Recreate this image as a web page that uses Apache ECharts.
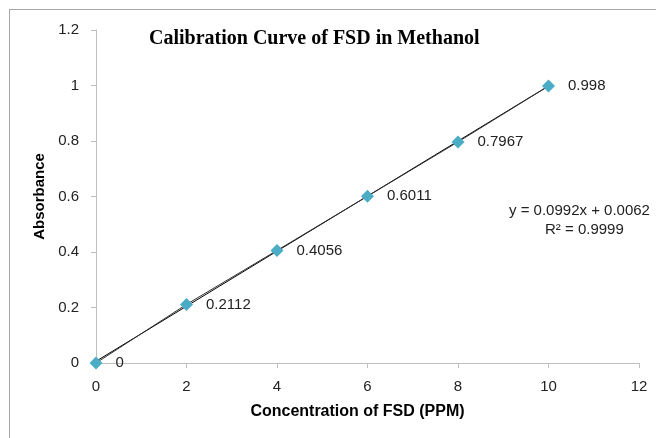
<!DOCTYPE html>
<html>
<head>
<meta charset="utf-8">
<script src="https://cdn.jsdelivr.net/npm/echarts@6/dist/echarts.min.js"></script>
<style>
  html, body { margin: 0; padding: 0; background: #fff; }
  #chart { width: 656px; height: 438px; }
</style>
</head>
<body>
<div id="chart"></div>
<script>
const concentration = [0, 2, 4, 6, 8, 10];
const absorbance = [0, 0.2112, 0.4056, 0.6011, 0.7967, 0.998];
// trendline shown in the chart: y = 0.0992x + 0.0062
const slope = 0.0992;
const intercept = 0.0062;
const trendX = [0, 10];

let chart = echarts.init(document.getElementById('chart'));

const points = concentration.map((x, i) => [x, absorbance[i]]);
const trend = trendX.map(x => [x, slope * x + intercept]);

const labelFont = 'Liberation Sans, Arial, sans-serif';

option = {
    backgroundColor: '#fff',
    animation: false,
    title: {
        text: 'Calibration Curve of FSD in Methanol',
        left: 144,
        top: 24,
        textStyle: {
            fontFamily: 'Liberation Serif, Times New Roman, serif',
            fontWeight: 'bold',
            fontSize: 20,
            color: '#000'
        }
    },
    grid: {
        left: 96,
        right: 17,
        top: 30,
        bottom: 75
    },
    xAxis: {
        type: 'value',
        min: 0,
        max: 12,
        interval: 2,
        name: 'Concentration of FSD (PPM)',
        nameLocation: 'middle',
        nameGap: 41,
        nameTextStyle: {
            fontFamily: labelFont,
            fontWeight: 'bold',
            fontSize: 16,
            color: '#000',
            padding: [0, 20, 0, 0]
        },
        splitLine: { show: false },
        axisLine: { lineStyle: { color: '#bfbfbf' } },
        axisTick: { length: 5, lineStyle: { color: '#bfbfbf' } },
        axisLabel: {
            margin: 16,
            fontFamily: labelFont,
            fontSize: 15,
            color: '#222'
        }
    },
    yAxis: {
        type: 'value',
        min: 0,
        max: 1.2,
        interval: 0.2,
        name: 'Absorbance',
        nameLocation: 'middle',
        nameGap: 49,
        nameTextStyle: {
            fontFamily: labelFont,
            fontWeight: 'bold',
            fontSize: 15,
            color: '#000'
        },
        splitLine: { show: false },
        axisLine: { show: true, lineStyle: { color: '#bfbfbf' } },
        axisTick: { show: true, length: 5, lineStyle: { color: '#bfbfbf' } },
        axisLabel: {
            margin: 17,
            fontFamily: labelFont,
            fontSize: 15,
            color: '#222',
            formatter: v => String(Math.round(v * 10) / 10)
        }
    },
    series: [
        {
            name: 'Trendline',
            type: 'line',
            data: trend,
            symbol: 'none',
            lineStyle: { color: '#000', width: 1 },
            z: 2
        },
        {
            name: 'Absorbance',
            type: 'line',
            data: points,
            symbol: 'diamond',
            symbolSize: 13,
            itemStyle: { color: '#4bacc6' },
            lineStyle: { color: '#333', width: 1 },
            label: {
                show: true,
                position: 'right',
                distance: 13,
                fontFamily: labelFont,
                fontSize: 15,
                color: '#222',
                formatter: p => String(p.value[1])
            },
            z: 3
        }
    ],
    graphic: [
        {
            type: 'line',
            shape: { x1: 10, y1: 9.5, x2: 656, y2: 9.5 },
            style: { stroke: '#a6a6a6', lineWidth: 1 }
        },
        {
            type: 'line',
            shape: { x1: 9.5, y1: 9, x2: 9.5, y2: 438 },
            style: { stroke: '#a6a6a6', lineWidth: 1 }
        },
        {
            type: 'text',
            left: 509,
            top: 203,
            style: {
                text: 'y = 0.0992x + 0.0062',
                font: '15px ' + labelFont,
                fill: '#222'
            }
        },
        {
            type: 'text',
            left: 545,
            top: 222,
            style: {
                text: 'R² = 0.9999',
                font: '15px ' + labelFont,
                fill: '#222'
            }
        }
    ]
};

chart.setOption(option);

window.onresize = function() {
    chart.resize();
};
</script>
</body>
</html>
